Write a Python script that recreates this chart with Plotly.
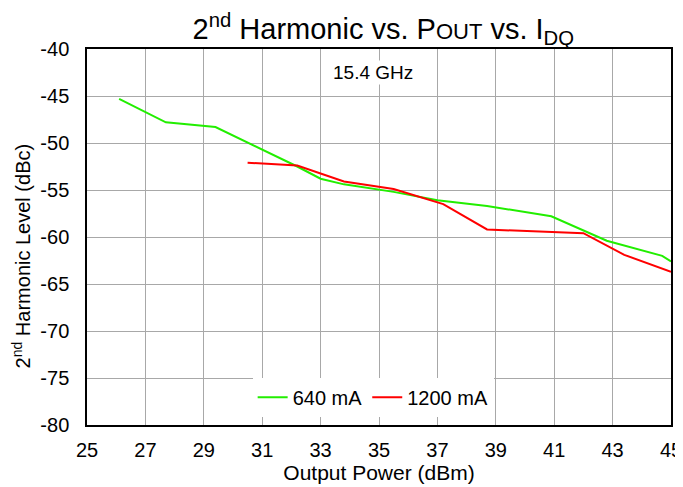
import plotly.graph_objects as go

# 2nd harmonic level (dBc) vs output power (dBm), 15.4 GHz
pout_640 = [26.1, 27.7, 29.4, 32.2, 33.0, 33.8, 35.5, 37.0, 38.7, 40.9, 42.8, 44.7, 45.0]
h2_640 = [-45.3, -47.8, -48.3, -52.5, -53.8, -54.4, -55.2, -56.1, -56.7, -57.8, -60.4, -62.0, -62.6]

pout_1200 = [30.5, 32.2, 33.8, 35.5, 37.2, 38.7, 42.0, 43.4, 45.0]
h2_1200 = [-52.1, -52.4, -54.1, -54.9, -56.5, -59.2, -59.6, -61.9, -63.7]

x_ticks = [25, 27, 29, 31, 33, 35, 37, 39, 41, 43, 45]
y_ticks = [-40, -45, -50, -55, -60, -65, -70, -75, -80]

FONT = "Liberation Sans, Arial, sans-serif"

fig = go.Figure()
fig.add_trace(go.Scatter(
    x=pout_640, y=h2_640, mode="lines", name="640 mA",
    line=dict(color="#22ee00", width=2),
))
fig.add_trace(go.Scatter(
    x=pout_1200, y=h2_1200, mode="lines", name="1200 mA",
    line=dict(color="#ff0000", width=2),
))

fig.add_annotation(
    x=34.8, y=-42.55, text="15.4 GHz", showarrow=False,
    font=dict(size=19, color="black", family=FONT),
    bgcolor="white",
)

# y-axis title placed as annotation (sits a bit below the axis centre)
fig.add_annotation(
    xref="paper", yref="paper", x=-0.112, y=0.45,
    xanchor="center", yanchor="middle",
    text="2<sup>nd</sup> Harmonic Level (dBc)", textangle=-90, showarrow=False,
    font=dict(size=20, color="black", family=FONT),
)

axis_common = dict(
    showline=True, mirror=True, linecolor="black", linewidth=1.5,
    showgrid=True, gridcolor="#a8a8a8", gridwidth=1,
    zeroline=False, ticks="", automargin=False,
    tickfont=dict(size=20, color="black", family=FONT),
)

fig.update_layout(
    width=675, height=479,
    margin=dict(l=79, r=12, t=41, b=62),
    paper_bgcolor="white", plot_bgcolor="white",
    font=dict(family=FONT, color="black"),
    title=dict(
        text="2<sup>nd</sup> Harmonic vs. P<span style='font-size:22px'>OUT</span> vs. I<sub>DQ</sub>",
        x=0.556, xanchor="center", y=0.957, yanchor="middle",
        font=dict(size=29, color="black", family=FONT),
    ),
    xaxis=dict(
        range=[25, 45], tickvals=x_ticks, ticktext=[str(v) for v in x_ticks],
        ticklabelstandoff=6,
        title=dict(text="Output Power (dBm)", font=dict(size=21), standoff=6),
        **axis_common,
    ),
    yaxis=dict(
        range=[-80, -40], tickvals=y_ticks, ticktext=[str(v) for v in y_ticks],
        ticklabelstandoff=12,
        **axis_common,
    ),
    legend=dict(
        orientation="h", x=0.49, xanchor="center", y=0.074, yanchor="middle",
        bgcolor="white", font=dict(size=20, color="black"),
        itemwidth=30, tracegroupgap=0,
    ),
)

fig.write_html("out.html")
